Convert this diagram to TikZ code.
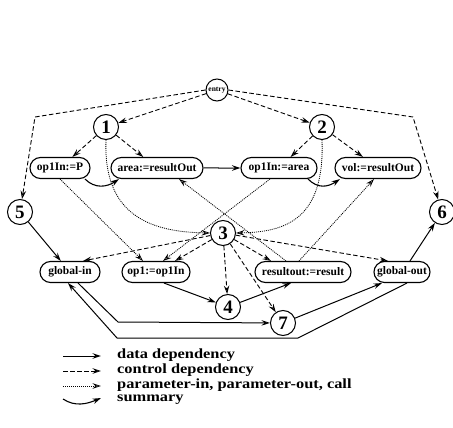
\documentclass[tikz,border=0pt]{standalone}
\usepackage{fontspec}
\usepackage{graphicx}
\setmainfont{Liberation Serif}
\usetikzlibrary{arrows.meta,shapes.misc}
\newcommand{\legtext}[1]{\scalebox{1.17}[1]{#1}}
\begin{document}
\begin{tikzpicture}[x=1pt,y=-1pt,
  box/.style={draw, line width=1.1pt, rounded rectangle, minimum height=21pt, inner xsep=2pt, inner ysep=1pt,
    font=\bfseries\fontsize{11.5}{12}\selectfont},
  num/.style={draw, circle, line width=1pt, minimum size=25pt, inner sep=0pt, font=\bfseries\fontsize{19}{19}\selectfont},
  tip/.style={-{Stealth[open,length=8.5pt,width=5.5pt,inset=3pt]}},
  ctrl/.style={tip, dash pattern=on 4.5pt off 2.5pt, line width=0.9pt},
  data/.style={tip, line width=1pt},
  param/.style={tip, dash pattern=on 1pt off 1pt, line width=0.8pt},
  summ/.style={tip, line width=1.1pt},
  leg/.style={anchor=west, inner sep=0pt, font=\bfseries\fontsize{14}{14}\selectfont},
]
\useasboundingbox (0,0) rectangle (453,428);
% nodes
\node[draw, circle, line width=1pt, minimum size=22pt, inner sep=0pt, font=\bfseries\fontsize{7.5}{8}\selectfont] (entry) at (217,90) {entry};
\node[num] (n1) at (106,127) {1};
\node[num] (n2) at (322,127) {2};
\node[box, minimum width=64pt] (p1) at (60,168) {op1In:=P};
\node[box, minimum width=96pt] (ar1) at (157,168) {area:=resultOut};
\node[box, minimum width=80pt] (pa) at (279,168) {op1In:=area};
\node[box, minimum width=90pt] (vo) at (378,168) {vol:=resultOut};
\node[num] (n5) at (20,212) {5};
\node[num] (n6) at (442,212) {6};
\node[num] (n3) at (223,233) {3};
\node[box, minimum width=64pt] (gin) at (70,272) {global-in};
\node[box, minimum width=72pt] (o1) at (156,272) {op1:=op1In};
\node[box, minimum width=100pt] (ro) at (303,272) {resultout:=result};
\node[box, minimum width=60pt] (go) at (402,272) {global-out};
\node[num] (n4) at (228,307) {4};
\node[num] (n7) at (283,323) {7};
% bend coordinates
\coordinate (cl) at (35,117);
\coordinate (cr) at (413,117);
\coordinate (b1) at (118,322);
\coordinate (b2) at (117,338);
\coordinate (b3) at (298,338);
% control dependencies
\draw[ctrl] (entry.west) -- (cl) -- (n5);
\draw[ctrl] (entry.east) -- (cr) -- (n6);
\draw[ctrl] (entry) -- (n1);
\draw[ctrl] (entry) -- (n2);
\draw[ctrl] (n1) -- (p1);
\draw[ctrl] (n1) -- (ar1);
\draw[ctrl] (n2) -- (pa);
\draw[ctrl] (n2) -- (vo);
\draw[ctrl] (n3) -- ([xshift=13pt]gin.north);
\draw[ctrl] (n3) -- (o1);
\draw[ctrl] (n3) -- ([xshift=-32pt]ro.north);
\draw[ctrl] (n3) -- ([xshift=-14pt]go.north);
\draw[ctrl] (n3) -- (n4);
\draw[ctrl] (n3) -- (n7);
% parameter-in, parameter-out, call
\draw[param] (p1.south) -- ([xshift=-13pt]o1.north);
\draw[param] ([xshift=-9pt]pa.south) -- ([xshift=7pt]o1.north);
\draw[param] (n1.south) .. controls (103,215) and (150,232) .. (n3.west);
\draw[param] (n2.south) .. controls (325,220) and (285,232) .. (n3.east);
\draw[param] ([xshift=-17pt]ro.north) -- ([xshift=22pt]ar1.south);
\draw[param] ([xshift=-4pt]ro.north) -- ([xshift=-4pt]vo.south);
% summary
\draw[summ] ([xshift=25pt]p1.south) .. controls +(10,10) and +(-12,8) .. ([xshift=-38pt]ar1.south);
\draw[summ] ([xshift=29pt]pa.south) .. controls +(10,10) and +(-12,8) .. ([xshift=-38pt]vo.south);
% data dependencies
\draw[data] (ar1) -- (pa);
\draw[data] (n5) -- (gin);
\draw[data] ([xshift=8pt]o1.south) -- (n4);
\draw[data] (n4) -- ([xshift=-12pt]ro.south);
\draw[data] ([xshift=8pt]gin.south) -- (b1) -- (n7);
\draw[data] ([xshift=5pt]go.south) -- (b3) -- (b2) -- ([xshift=-2pt]gin.south);
\draw[data] (n7) -- ([xshift=-20pt]go.south);
\draw[data] ([xshift=8pt]go.north) -- (n6);
% legend
\coordinate (l1a) at (63,356); \coordinate (l1b) at (101,356);
\coordinate (l2a) at (63,371); \coordinate (l2b) at (101,371);
\coordinate (l3a) at (63,386); \coordinate (l3b) at (101,386);
\coordinate (l4a) at (63,399); \coordinate (l4b) at (101,398);
\draw[data] (l1a) -- (l1b);
\draw[ctrl] (l2a) -- (l2b);
\draw[param] (l3a) -- (l3b);
\draw[summ] (l4a) .. controls +(12,8) and +(-14,6) .. (l4b);
\node[leg] (t1) at (117,355) {\legtext{data dependency}};
\node[leg] (t2) at (117,370) {\legtext{control dependency}};
\node[leg] (t3) at (117,385) {\legtext{parameter-in, parameter-out, call}};
\node[leg] (t4) at (117,400) {\legtext{summary}};
\end{tikzpicture}
\end{document}
